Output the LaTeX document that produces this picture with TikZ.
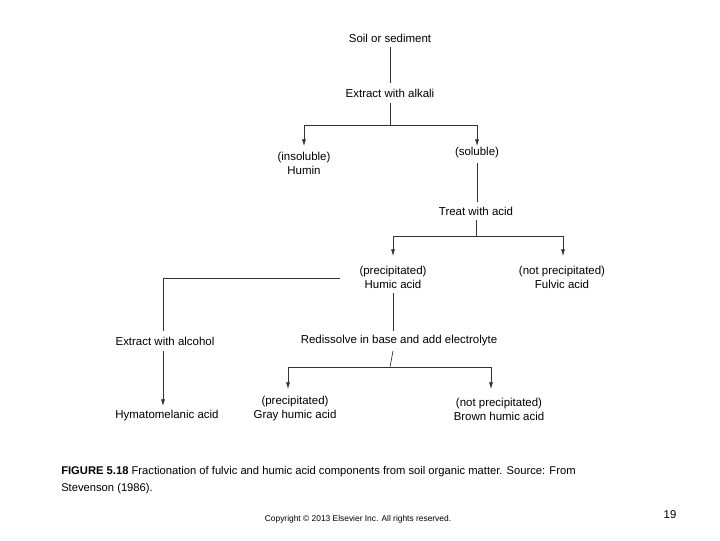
\documentclass[tikz,border=0pt]{standalone}
\usepackage{fontspec}
\setmainfont{Liberation Sans}
\usetikzlibrary{arrows.meta}
\begin{document}
\begin{tikzpicture}[x=0.75pt,y=-0.75pt,
  t/.style={inner sep=1pt,font=\fontsize{8.6}{10.5}\selectfont,align=center},
  ln/.style={line width=0.5pt,black!80},
  ar/.style={ln,-{Latex[length=5pt,width=3pt]}}]
\useasboundingbox (0,0) rectangle (720,540);
\node[t] (soil) at (390,38) {Soil or sediment};
\node[t] (alk) at (390,93) {Extract with alkali};
\node[t] (hum) at (304,163) {(insoluble)\\Humin};
\node[t] (sol) at (477,153) {(soluble)};
\node[t] (acid) at (476,211) {Treat with acid};
\node[t] (ha) at (393,277) {(precipitated)\\Humic acid};
\node[t] (fa) at (562,277) {(not precipitated)\\Fulvic acid};
\node[t] (alc) at (165,341) {Extract with alcohol};
\node[t] (red) at (399,341) {Redissolve in base and add electrolyte};
\node[t] (hy) at (167,416) {Hymatomelanic acid};
\node[t] (gr) at (295,409) {(precipitated)\\Gray humic acid};
\node[t] (br) at (499,409) {(not precipitated)\\Brown humic acid};
\coordinate (j1) at (390,125);
\coordinate (j2) at (476,236);
\coordinate (j3) at (390,367);
\draw[ln] (390,47) -- (390,83);
\draw[ln] (390,103) -- (j1);
\draw[ar] (j1) -| (304,146);
\draw[ar] (j1) -| (477,146);
\draw[ln] (477,163) -- (477,202);
\draw[ln] (476,220) -- (j2);
\draw[ar] (j2) -| (393,256);
\draw[ar] (j2) -| (563,256);
\draw[ln] (340,278) -- (163,278) -- (163,331);
\draw[ln] (393,293) -- (393,331);
\draw[ar] (163,351) -- (163,406);
\draw[ln] (393,351) -- (j3);
\draw[ar] (j3) -| (288,389);
\draw[ar] (j3) -| (491,389);
\node[anchor=west,inner sep=0pt,font=\fontsize{8.4}{12.5}\selectfont,align=left] (cap) at (61,480) {\textbf{FIGURE 5.18} Fractionation of fulvic and humic acid components from soil organic matter. Source: From\\Stevenson (1986).};
\node[inner sep=0pt,font=\fontsize{6.3}{8}\selectfont] (copy) at (358,519) {Copyright © 2013 Elsevier Inc. All rights reserved.};
\node[inner sep=0pt,font=\fontsize{8.5}{10}\selectfont] (num) at (670,515) {19};
\end{tikzpicture}
\end{document}
